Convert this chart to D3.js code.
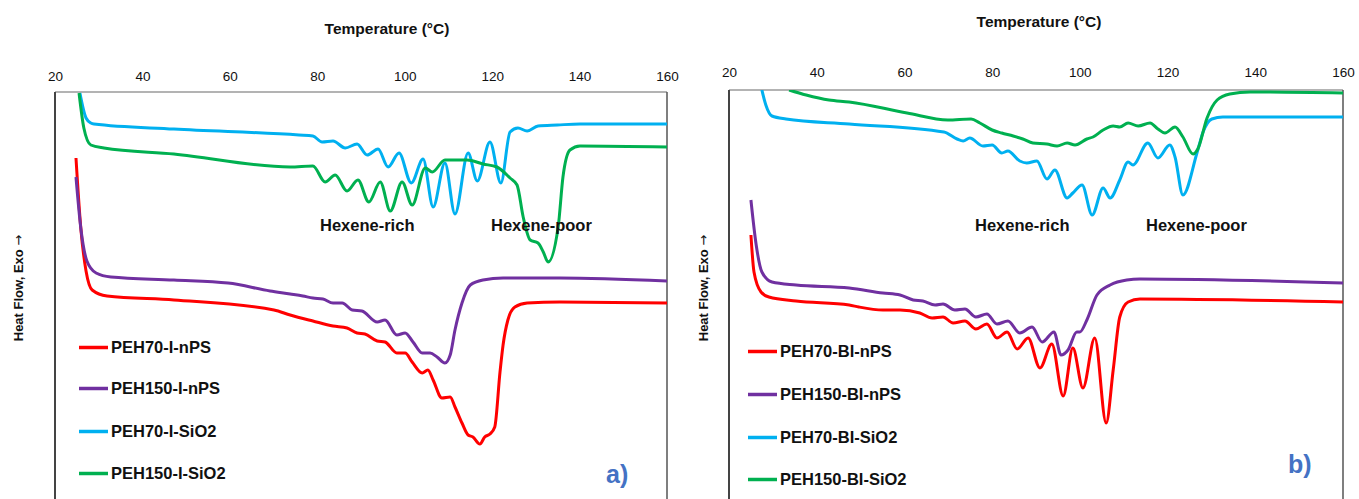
<!DOCTYPE html>
<html>
<head>
<meta charset="utf-8">
<script src="https://cdn.jsdelivr.net/npm/d3@7"></script>
<style>
  body { margin: 0; background: #fff; }
  svg { display: block; }
  text { font-family: "Liberation Sans", Arial, sans-serif; fill: #111; }
</style>
</head>
<body>
<svg id="chart" width="1359" height="499"></svg>
<script>
// temperature ticks, shared by both panels
const tempTicks = [20, 40, 60, 80, 100, 120, 140, 160];

const namesA = ["PEH70-I-nPS", "PEH150-I-nPS", "PEH70-I-SiO2", "PEH150-I-SiO2"];
const namesB = ["PEH70-BI-nPS", "PEH150-BI-nPS", "PEH70-BI-SiO2", "PEH150-BI-SiO2"];
const seriesColors = ["#FF0000", "#7030A0", "#00B0F0", "#00B050"];

// panel a) - temperature (°C) and heat flow (a.u., exo up)
const tA_70nPS = [24.8, 25.9, 27.1, 28.5, 31.9, 47.2, 70.1, 73.8, 79.0, 83.6, 86.8, 89.1, 90.9, 93.7, 95.5, 98.2, 100.1, 101.7, 104.0, 105.3, 106.5, 108.5, 110.4, 111.5, 113.1, 114.5, 115.6, 117.2, 118.3, 119.5, 120.6, 121.8, 122.5, 123.6, 125.2, 128.0, 135.5, 160];
const hfA_70nPS = [342, 272, 229, 210, 204, 200, 190, 185, 179, 174, 172, 167, 166, 159, 158, 147, 147, 138, 127, 130, 120, 102, 103, 93, 77, 65, 63, 56, 63, 66, 73, 128, 155, 180, 193, 197, 198, 197];

const tA_150nPS = [24.8, 25.9, 27.3, 29.4, 32.8, 47.2, 59.6, 69.2, 73.8, 76.7, 79.0, 81.3, 83.6, 85.7, 88.0, 90.2, 93.7, 95.5, 98.2, 100.1, 101.9, 104.0, 105.8, 107.4, 109.2, 110.4, 111.5, 113.1, 115.0, 117.9, 122.5, 135.5, 160];
const hfA_150nPS = [323, 272, 239, 227, 223, 220, 217, 209, 206, 204, 202, 201, 197, 197, 190, 189, 178, 180, 165, 167, 158, 147, 147, 143, 137, 145, 170, 197, 215, 220, 222, 222, 219];

const tA_70SiO2 = [25.7, 27.1, 28.2, 28.9, 47.2, 75.8, 79.0, 81.1, 83.6, 86.4, 89.1, 91.4, 93.9, 96.2, 98.7, 101.5, 104.2, 106.5, 109.2, 111.5, 114.5, 116.6, 119.5, 122.0, 124.1, 125.9, 128.0, 130.5, 134.9, 140.1, 160];
const hfA_70SiO2 = [407, 382, 377, 376, 371, 365, 364, 358, 359, 352, 356, 345, 351, 333, 347, 317, 341, 293, 337, 286, 347, 319, 358, 317, 368, 372, 369, 374, 375, 376, 376];

const tA_150SiO2 = [25.5, 26.6, 28.2, 31.2, 47.2, 73.8, 79.0, 81.8, 84.1, 86.8, 89.3, 91.8, 94.4, 96.7, 99.4, 101.7, 104.7, 106.3, 109.2, 114.3, 117.9, 121.1, 124.1, 125.7, 127.1, 128.7, 130.5, 131.7, 132.8, 135.1, 136.2, 137.8, 140.1, 160];
const hfA_150SiO2 = [407, 372, 355, 352, 346, 333, 334, 318, 325, 309, 320, 298, 318, 289, 318, 295, 332, 328, 340, 340, 336, 333, 322, 315, 283, 260, 257, 248, 238, 273, 323, 350, 354, 353];

// panel b)
const tB_70nPS = [25.0, 25.7, 27.3, 29.1, 35.3, 47.4, 49.6, 55.1, 59.0, 63.5, 66.3, 68.8, 71.1, 73.8, 76.3, 78.8, 81.1, 83.4, 85.7, 88.2, 90.9, 93.6, 96.2, 98.4, 100.7, 103.4, 106.0, 107.6, 109.1, 111.0, 113.7, 160];
const hfB_70nPS = [265, 228, 208, 203, 199, 195, 193, 190, 190, 187, 182, 183, 177, 179, 171, 176, 162, 168, 151, 162, 132, 156, 104, 152, 112, 162, 77, 130, 183, 198, 201, 198];

const tB_150nPS = [25.0, 26.2, 27.5, 29.8, 35.3, 47.4, 55.1, 59.0, 62.0, 64.2, 67.0, 68.8, 71.5, 73.8, 76.3, 78.8, 81.1, 83.6, 86.3, 89.1, 91.4, 94.1, 95.7, 97.3, 99.3, 100.0, 101.6, 103.9, 106.9, 110.7, 113.7, 160];
const hfB_150nPS = [300, 255, 228, 218, 215, 212, 207, 205, 200, 199, 195, 196, 190, 191, 183, 186, 176, 179, 167, 173, 158, 168, 145, 150, 168, 168, 180, 205, 215, 220, 221, 217];

const tB_70SiO2 = [27.5, 28.4, 29.8, 33.0, 47.4, 69.0, 72.0, 73.4, 74.9, 77.9, 80.0, 82.2, 83.6, 86.3, 87.9, 90.2, 92.5, 94.3, 97.1, 98.4, 100.5, 102.8, 105.3, 106.9, 109.1, 111.0, 112.1, 115.5, 117.8, 120.5, 121.7, 123.5, 126.7, 128.1, 130.1, 132.6, 160];
const hfB_70SiO2 = [410, 395, 384, 381, 376, 368, 361, 359, 362, 354, 355, 347, 349, 339, 337, 339, 321, 330, 302, 307, 315, 285, 312, 302, 320, 338, 335, 357, 342, 355, 343, 305, 347, 368, 381, 383, 383];

const tB_150SiO2 = [33.7, 37.6, 42.8, 47.4, 60.6, 69.9, 75.2, 77.2, 80.0, 82.2, 84.8, 87.0, 89.3, 92.5, 94.8, 97.1, 98.9, 101.6, 103.0, 105.3, 107.6, 109.1, 111.0, 113.3, 116.0, 117.8, 119.4, 121.7, 123.5, 125.8, 126.9, 129.0, 131.3, 134.2, 138.8, 160];
const hfB_150SiO2 = [410, 405, 400, 398, 387, 380, 381, 377, 370, 367, 364, 361, 357, 356, 354, 357, 355, 361, 363, 370, 374, 373, 377, 374, 377, 371, 367, 373, 363, 346, 351, 382, 400, 406, 408, 407];

const annotations = ["Hexene-rich", "Hexene-poor"];

const panels = [
  {
    key: "a", x0: 55, x1: 667, top: 92, tickBase: 81, titleX: 387, titleY: 34, yTitleX: 23,
    tag: "a)", tagX: 606, tagY: 483, legX: 79, legRows: [353, 394, 437, 479],
    annX: [320, 491], annY: 231, names: namesA,
    series: [[tA_70nPS, hfA_70nPS], [tA_150nPS, hfA_150nPS], [tA_70SiO2, hfA_70SiO2], [tA_150SiO2, hfA_150SiO2]]
  },
  {
    key: "b", x0: 729, x1: 1343, top: 90, tickBase: 77, titleX: 1039, titleY: 27, yTitleX: 708,
    tag: "b)", tagX: 1288, tagY: 473, legX: 748, legRows: [357, 400, 443, 485],
    annX: [975, 1146], annY: 231, names: namesB,
    series: [[tB_70nPS, hfB_70nPS], [tB_150nPS, hfB_150nPS], [tB_70SiO2, hfB_70SiO2], [tB_150SiO2, hfB_150SiO2]]
  }
];

const svg = d3.select("#chart");
const H = 499;

const y = d3.scaleLinear().domain([0, 408]).range([500, 92]);

panels.forEach(p => {
  const x = d3.scaleLinear().domain([20, 160]).range([p.x0, p.x1]);
  const g = svg.append("g");

  // clip
  g.append("clipPath").attr("id", "clip-" + p.key)
    .append("rect").attr("x", p.x0).attr("y", p.top).attr("width", p.x1 - p.x0).attr("height", H - p.top + 5);

  // frame
  g.append("line").attr("x1", p.x0).attr("x2", p.x1).attr("y1", p.top).attr("y2", p.top)
    .attr("stroke", "#9a9a9a").attr("stroke-width", 1.5);
  g.append("line").attr("x1", p.x0).attr("x2", p.x0).attr("y1", p.top).attr("y2", H + 2)
    .attr("stroke", "#444").attr("stroke-width", 2);
  g.append("line").attr("x1", p.x1).attr("x2", p.x1).attr("y1", p.top).attr("y2", H + 2)
    .attr("stroke", "#555").attr("stroke-width", 1.5);

  // top axis labels
  const ax = g.append("g").attr("transform", `translate(0,${p.tickBase})`)
    .call(d3.axisTop(x).tickValues(tempTicks).tickSize(0).tickPadding(0));
  ax.select(".domain").remove();
  ax.selectAll("text").style("font-size", "13.5px").attr("fill", "#222")
    .style("font-family", '"Liberation Sans", Arial, sans-serif');

  g.append("text").attr("x", p.titleX).attr("y", p.titleY).attr("text-anchor", "middle")
    .style("font-size", "15.5px").style("font-weight", "bold").text("Temperature (°C)");

  const yt = g.append("text").attr("transform", `translate(${p.yTitleX},288) rotate(-90)`).attr("text-anchor", "middle")
    .style("font-size", "13px").style("font-weight", "bold");
  yt.append("tspan").text("Heat Flow, Exo ");
  yt.append("tspan").style("font-family", '"DejaVu Sans", sans-serif').style("font-weight", "normal").text("\u2192");

  // curves
  const line = d3.line().x(d => x(d[0])).y(d => y(d[1])).curve(d3.curveMonotoneX);
  const lines = g.append("g").attr("clip-path", `url(#clip-${p.key})`);
  p.series.forEach((s, i) => {
    lines.append("path").datum(d3.zip(s[0], s[1]))
      .attr("fill", "none").attr("stroke", seriesColors[i]).attr("stroke-width", 3)
      .attr("stroke-linejoin", "round").attr("d", line);
  });

  // annotations
  annotations.forEach((a, i) => {
    g.append("text").attr("x", p.annX[i]).attr("y", p.annY)
      .style("font-size", "16.5px").style("font-weight", "bold").text(a);
  });

  // legend
  p.names.forEach((n, i) => {
    const ly = p.legRows[i];
    g.append("line").attr("x1", p.legX).attr("x2", p.legX + 29).attr("y1", ly - 5.5).attr("y2", ly - 5.5)
      .attr("stroke", seriesColors[i]).attr("stroke-width", 3.5);
    g.append("text").attr("x", p.legX + 32).attr("y", ly)
      .style("font-size", "16.5px").style("font-weight", "bold").text(n);
  });

  g.append("text").attr("x", p.tagX).attr("y", p.tagY)
    .style("font-size", "25px").style("font-weight", "bold").style("fill", "#4472C4").text(p.tag);
});
</script>
</body>
</html>
